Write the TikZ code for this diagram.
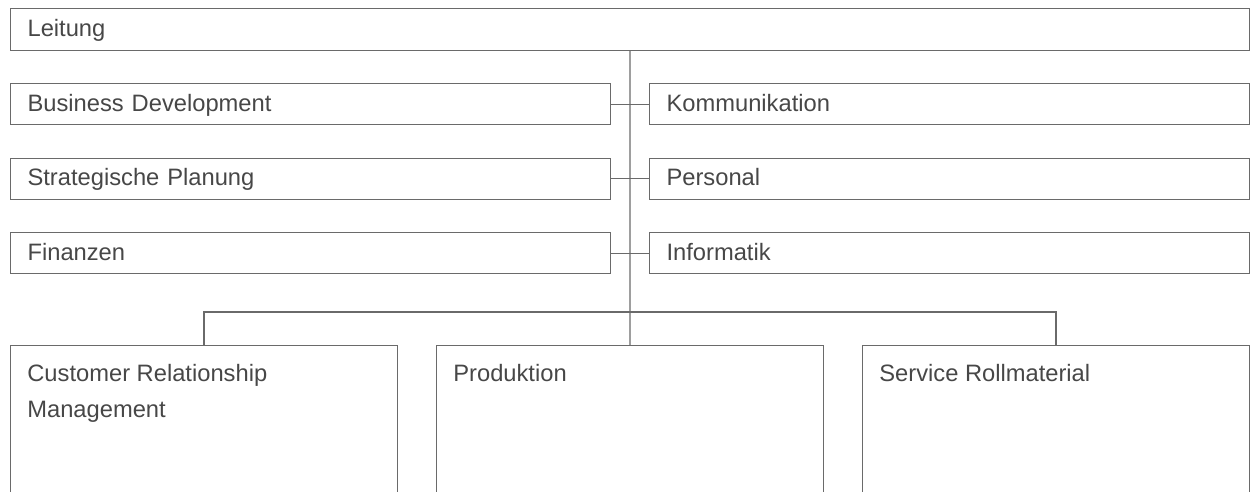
\documentclass[tikz,border=0pt]{standalone}
\usepackage{fontspec}
\setmainfont{Liberation Sans}
\usetikzlibrary{positioning}
\definecolor{linegrey}{HTML}{6A6A6A}
\definecolor{textgrey}{HTML}{474747}

\tikzset{
  unitbox/.style={rectangle,draw=linegrey,line width=0.65pt,anchor=north west,
    inner sep=0pt,text=textgrey,font=\fontsize{13.5}{20.4}\selectfont},
  rowbox/.style={unitbox,minimum width=12cm,minimum height=0.82cm,
    text width=11.32cm,inner xsep=0.34cm,align=left,
    text height=0.84em,text depth=0pt},
  boxtext/.style={anchor=north west,inner sep=0pt,align=left,text=textgrey,
    font=\fontsize{13.5}{20.4}\selectfont},
  link/.style={draw=linegrey,line width=0.65pt}
}

\begin{document}
\begin{tikzpicture}[x=0.02cm,y=-0.02cm]
    \clip (0,0) rectangle (1250,491);

    \node[unitbox,minimum width=24.78cm,minimum height=0.84cm,text width=24.1cm,
      inner xsep=0.34cm,align=left,text height=0.84em,text depth=0pt] (leitung) at (10,8) {Leitung};

    \node[rowbox] (bizdev) at (10,83) {Business Development};
    \node[rowbox] (planung) at (10,157.5) {Strategische Planung};
    \node[rowbox] (finanzen) at (10,232) {Finanzen};
    \node[rowbox] (komm) at (649,83) {Kommunikation};
    \node[rowbox] (personal) at (649,157.5) {Personal};
    \node[rowbox] (informatik) at (649,232) {Informatik};

    \node[unitbox,minimum width=7.74cm,minimum height=3.6cm] (crm) at (10,345) {};
    \node[unitbox,minimum width=7.74cm,minimum height=3.6cm] (prod) at (436,345) {};
    \node[unitbox,minimum width=7.74cm,minimum height=3.6cm] (service) at (862,345) {};

    \node[boxtext] (crmtext) at (27,364) {Customer Relationship\\Management};
    \node[boxtext] (prodtext) at (453,364) {Produktion};
    \node[boxtext] (servicetext) at (879,364) {Service Rollmaterial};

    \coordinate (bus) at (629.5,312);

    \draw[link] (leitung.south) -- (prod.north);
    \draw[link] (bizdev.east) -- (komm.west);
    \draw[link] (planung.east) -- (personal.west);
    \draw[link] (finanzen.east) -- (informatik.west);
    \draw[link] (crm.north) |- (bus) -| (service.north);
\end{tikzpicture}
\end{document}
